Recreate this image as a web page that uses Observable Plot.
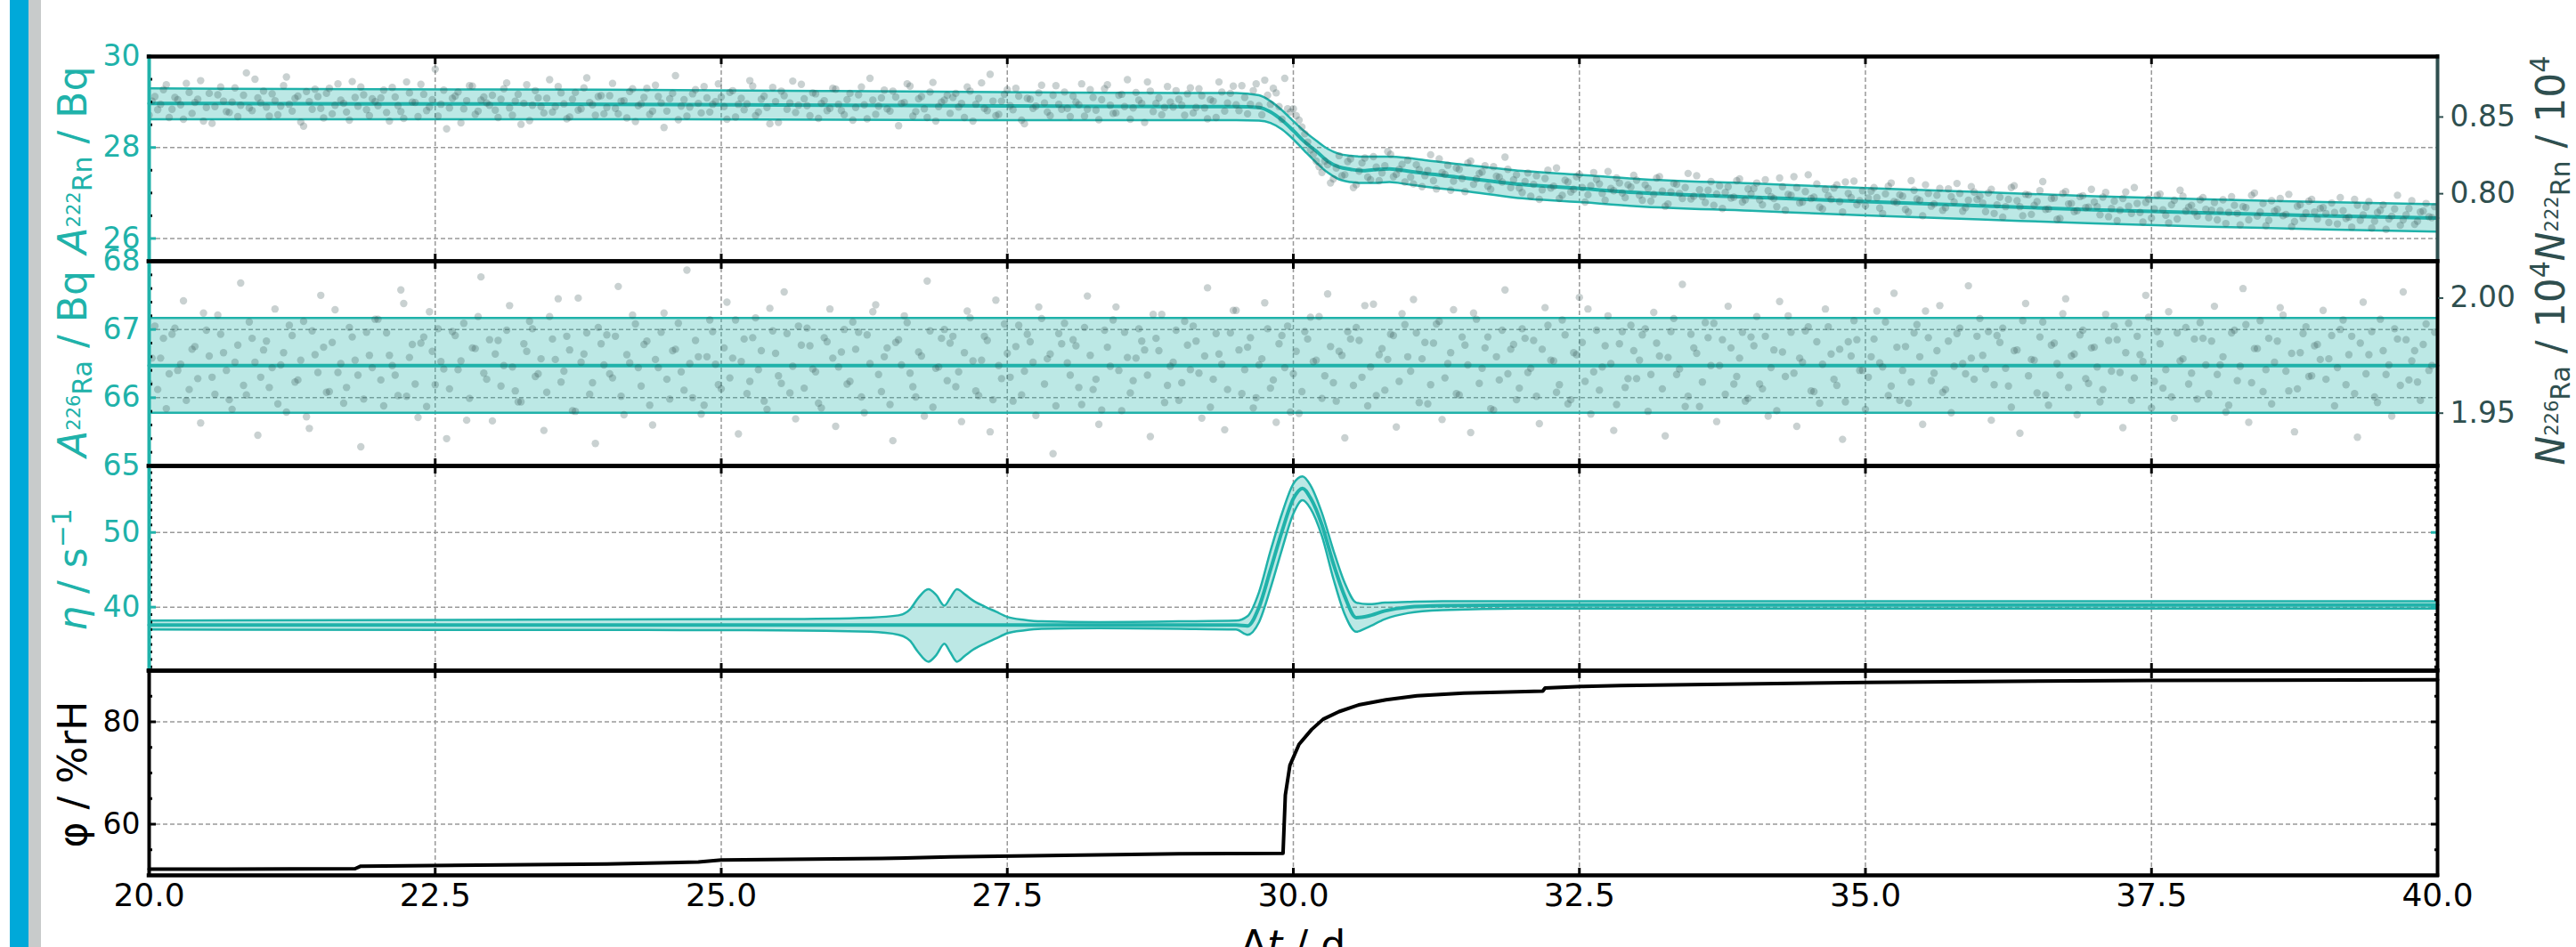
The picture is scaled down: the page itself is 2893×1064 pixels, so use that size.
<!DOCTYPE html>
<html><head><meta charset="utf-8">
<script src="https://cdn.jsdelivr.net/npm/d3@7"></script>
<script src="https://cdn.jsdelivr.net/npm/@observablehq/plot@0.6"></script>
<style>
html,body{margin:0;padding:0;background:#fff;}
body{width:2893px;height:1064px;overflow:hidden;position:relative;font-family:"DejaVu Sans",sans-serif;}
#barBlue{position:absolute;left:11px;top:0;width:21px;height:1064px;background:#00a9d9;}
#barGray{position:absolute;left:32px;top:0;width:14px;height:1064px;background:#c8cbcb;}
#fig{position:absolute;left:0;top:0;width:2893px;height:1064px;}
#fig svg{position:absolute;left:0;}
</style></head>
<body>
<div id="barBlue"></div><div id="barGray"></div>
<div id="fig"></div>
<script>
// ---------------- data ----------------
const xDomain = [20, 40];
const xTicks = [20, 22.5, 25, 27.5, 30, 32.5, 35, 37.5, 40];

// Panel 1: A(222Rn) fit (mean and band)
const rnT    = [20, 22, 24, 26, 28, 29, 29.5, 29.7, 29.8, 29.9, 30.0, 30.1, 30.2, 30.3, 30.4, 30.5, 30.6, 30.7, 30.84, 31.0, 31.15, 31.5, 31.93, 32.5, 33, 34, 35, 36, 37, 38, 39, 40];
const rnMean = [28.97, 28.96, 28.95, 28.93, 28.91, 28.90, 28.90, 28.88, 28.78, 28.60, 28.37, 28.12, 27.92, 27.70, 27.57, 27.52, 27.49, 27.51, 27.53, 27.48, 27.43, 27.33, 27.20, 27.10, 27.01, 26.91, 26.81, 26.72, 26.63, 26.56, 26.50, 26.45];
const rnHigh = [29.30, 29.28, 29.27, 29.24, 29.21, 29.20, 29.20, 29.15, 29.02, 28.82, 28.58, 28.35, 28.15, 27.97, 27.86, 27.82, 27.80, 27.80, 27.80, 27.77, 27.72, 27.62, 27.50, 27.40, 27.31, 27.21, 27.11, 27.02, 26.93, 26.86, 26.80, 26.75];
const rnLow  = [28.62, 28.62, 28.62, 28.61, 28.60, 28.60, 28.60, 28.59, 28.54, 28.40, 28.18, 27.92, 27.67, 27.45, 27.30, 27.24, 27.22, 27.22, 27.24, 27.19, 27.14, 27.04, 26.90, 26.80, 26.71, 26.61, 26.51, 26.42, 26.33, 26.26, 26.20, 26.15];
// Panel 1: measured A(222Rn); set A at t = 20 + 0.05 i, set B at t = 20.025 + 0.05 i
const scatterStart = 20, scatterStep = 0.05;
const rnScatter = [
28.71,29.12,28.95,29.38,28.84,29.05,28.62,29.21,28.99,29.47,28.88,28.53,29.16,29.02,28.77,29.31,28.93,29.64,28.81,29.09,
29.24,28.69,29.03,28.91,29.55,28.80,29.13,28.47,29.01,29.28,28.86,29.19,28.74,29.40,28.97,28.60,29.10,29.33,28.83,29.07,
28.92,29.26,28.58,29.11,28.79,29.44,29.00,28.68,29.17,28.89,29.72,28.95,28.41,29.08,29.22,28.85,29.36,28.73,29.04,28.98,
29.15,28.66,29.29,28.87,29.02,28.51,29.38,28.93,29.09,28.76,29.49,28.90,29.20,28.63,29.06,28.82,29.31,28.99,28.71,29.14,
28.88,29.41,28.74,29.03,29.23,28.57,28.96,29.30,28.80,29.12,28.44,29.07,29.58,28.91,28.69,29.18,28.97,29.34,28.78,29.01,
29.11,28.62,29.25,28.95,28.83,29.47,28.70,29.06,28.88,29.32,28.55,29.14,28.98,28.77,29.39,28.92,29.20,28.64,29.03,28.86,
29.28,28.81,29.05,28.60,29.16,28.94,29.52,28.73,29.09,28.85,29.24,28.48,28.99,29.35,28.79,29.12,28.66,29.43,28.90,29.04,
28.75,29.19,28.97,29.33,28.58,29.08,28.86,29.61,28.70,29.02,29.27,28.83,29.13,28.52,29.06,28.91,29.37,28.78,29.15,28.95,
29.22,28.68,29.00,29.40,28.84,29.10,28.61,29.29,28.93,28.76,29.17,29.49,28.87,29.04,28.55,29.24,28.97,28.72,29.34,28.89,
29.06,28.71,29.31,28.88,29.14,28.63,29.02,29.44,28.80,29.19,28.94,29.36,28.74,29.25,28.92,29.48,28.95,29.20,28.62,28.85,
28.85,28.60,28.30,27.95,27.70,27.45,27.62,27.31,27.82,27.40,27.75,27.18,27.66,27.35,27.80,27.27,27.60,27.85,27.41,27.63,
27.72,27.20,27.51,27.38,27.84,27.09,27.45,27.61,27.26,27.52,27.03,27.70,27.31,27.46,27.15,27.58,27.35,27.79,27.12,27.40,
27.01,27.44,27.19,26.86,27.32,27.11,27.55,26.95,27.24,27.08,27.41,26.80,27.16,27.30,26.99,27.47,27.05,27.22,26.90,27.13,
27.28,26.84,27.10,26.97,27.36,26.71,27.02,27.19,26.88,27.43,26.93,27.07,26.79,27.25,26.98,26.66,27.14,26.91,27.31,26.85,
26.98,27.22,26.74,27.05,26.88,27.33,26.62,26.95,27.12,26.80,27.40,26.91,26.69,27.08,26.86,27.18,26.58,26.99,27.26,26.83,
26.72,27.04,26.90,26.55,27.15,26.81,26.96,26.64,27.27,26.87,26.50,26.99,26.76,27.10,26.68,26.92,27.21,26.60,26.84,27.02,
26.93,26.59,27.08,26.74,26.47,26.86,27.16,26.70,26.97,26.53,26.81,27.25,26.65,26.89,26.44,27.03,26.77,26.61,26.94,26.69,
26.80,26.52,27.01,26.66,26.39,26.88,26.71,27.12,26.57,26.79,26.45,26.95,26.63,26.34,26.84,27.06,26.60,26.73,26.49,26.90,
26.46,26.79,26.61,26.33,26.92,26.55,26.70,26.41,27.00,26.58,26.28,26.83,26.64,26.50,26.97,26.37,26.74,26.56,26.86,26.43,
26.68,26.35,26.57,26.90,26.44,26.25,26.73,26.52,26.81,26.38,26.62,26.20,26.49,26.95,26.41,26.66,26.31,26.58,26.77,26.46
];
const rnScatterB = [
29.02,28.83,29.27,28.66,29.10,28.94,29.41,28.75,29.06,28.58,29.19,28.90,29.33,28.79,29.00,28.68,29.15,28.87,29.50,28.98,
28.89,29.18,28.72,29.36,28.95,29.08,28.56,29.23,28.84,29.12,28.65,29.30,28.93,29.04,28.78,29.45,28.91,29.16,28.70,29.01,
29.09,28.77,29.32,28.92,28.64,29.20,28.99,29.39,28.81,29.05,28.69,29.26,28.87,29.13,28.54,29.03,29.35,28.80,29.11,28.93,
28.82,29.06,29.42,28.71,29.17,28.97,28.59,29.25,28.90,29.08,28.78,29.34,28.96,28.67,29.21,28.85,29.53,28.94,29.12,28.74,
29.14,28.86,29.02,28.65,29.29,28.92,29.10,28.73,29.37,28.98,28.80,29.19,28.61,29.05,28.89,29.27,28.76,29.09,28.95,29.40,
28.90,29.21,28.67,29.08,28.96,29.35,28.78,29.13,28.52,29.01,29.24,28.84,29.46,28.93,29.07,28.70,29.18,28.97,28.81,29.30,
28.95,28.72,29.19,28.88,29.33,28.63,29.04,28.91,29.26,28.80,29.11,28.97,29.40,28.69,29.07,28.85,29.22,28.58,29.00,29.15,
29.10,28.89,28.66,29.24,28.95,29.42,28.81,29.02,28.73,29.17,28.92,29.30,28.60,29.08,28.86,29.20,28.98,28.70,29.36,28.84,
28.86,29.13,28.94,28.69,29.27,28.82,29.05,29.38,28.75,29.15,28.90,28.62,29.21,28.97,29.44,28.79,29.09,28.88,29.00,29.25,
28.93,29.18,28.76,29.29,28.87,29.05,28.66,29.22,28.98,29.35,28.81,29.10,28.95,29.40,28.72,29.15,29.30,28.90,29.52,28.78,
28.70,28.45,28.12,27.85,27.58,27.70,27.22,27.55,27.38,27.69,27.12,27.48,27.77,27.29,27.57,27.44,27.91,27.36,27.52,27.24,
27.35,27.62,27.14,27.49,27.27,27.75,27.41,27.06,27.55,27.32,27.66,27.19,27.43,27.60,27.08,27.37,27.24,27.52,27.29,27.11,
27.25,26.93,27.38,27.07,27.50,27.15,26.88,27.28,27.02,27.36,27.12,26.96,27.45,27.20,26.84,27.10,27.33,27.00,27.18,27.39,
26.95,27.18,26.82,27.33,27.04,26.76,27.21,26.99,27.12,26.87,27.38,26.92,27.06,26.73,27.16,27.01,26.89,27.27,26.80,27.09,
27.10,26.85,27.29,26.92,26.70,27.14,26.97,27.36,26.78,27.03,26.88,27.20,26.65,26.94,27.11,26.81,27.24,26.90,26.74,27.05,
26.89,27.12,26.67,26.98,27.22,26.79,26.93,26.58,27.06,26.84,27.18,26.71,26.95,26.62,27.09,26.80,26.99,26.68,27.14,26.86,
26.78,27.00,26.55,26.91,26.70,27.12,26.83,26.50,26.96,26.73,27.05,26.64,26.88,26.42,26.99,26.76,26.59,26.92,26.68,27.08,
26.70,26.91,26.48,26.82,26.62,27.02,26.55,26.77,26.36,26.87,26.65,26.98,26.51,26.74,26.43,26.93,26.69,26.58,26.85,26.64,
26.62,26.41,26.85,26.57,26.73,26.30,26.68,26.95,26.49,26.77,26.40,26.60,26.88,26.53,26.26,26.71,26.45,26.82,26.58,26.66,
26.55,26.78,26.32,26.61,26.47,26.86,26.40,26.69,26.23,26.57,26.74,26.43,26.65,26.29,26.52,26.83,26.38,26.60,26.48,26.70
];

// Panel 2: A(226Ra) fit and measured values (same two sampling sets)
const raT = [20, 40];
const raMean = [66.47, 66.47];
const raHigh = [67.17, 67.17];
const raLow  = [65.78, 65.78];
const raScatter = [
66.21,67.05,66.58,65.84,66.93,66.40,67.42,66.12,66.75,65.63,66.99,66.30,67.21,66.66,65.97,66.52,67.68,66.04,66.87,65.45,
66.70,66.15,67.30,66.48,65.79,66.91,66.26,67.12,65.55,66.63,67.50,66.08,66.81,66.37,65.92,67.03,66.55,65.28,66.96,66.44,
67.15,65.88,66.62,66.33,67.58,66.02,66.78,65.71,66.89,67.26,66.19,66.53,65.40,66.97,66.41,67.09,65.99,66.72,67.77,66.27,
65.66,66.84,66.47,67.35,66.10,65.94,66.68,67.01,66.35,65.52,67.19,66.56,66.23,66.90,65.81,67.46,66.64,66.05,65.33,66.79,
66.92,66.29,67.63,65.75,66.51,67.08,66.17,66.83,65.60,66.44,67.24,65.98,66.71,66.38,67.87,66.00,66.60,65.89,67.14,66.49,
66.13,67.40,66.58,65.47,66.86,66.24,67.17,66.69,65.83,66.98,66.32,67.55,66.07,65.69,66.77,67.02,66.42,65.92,66.88,67.30,
65.58,66.67,66.20,67.11,66.96,65.78,66.50,67.36,66.09,66.73,65.37,66.85,67.20,66.36,66.01,66.61,67.71,65.86,66.45,67.00,
66.80,66.16,65.65,67.27,66.54,66.03,66.90,65.50,67.43,66.28,66.65,65.95,67.06,66.39,66.82,65.74,67.16,66.57,65.18,66.94,
67.09,66.33,66.76,65.90,67.49,66.12,65.61,66.99,66.46,67.33,65.81,66.59,66.25,67.01,66.70,65.43,66.87,67.22,66.18,66.52,
65.96,67.12,66.41,66.83,65.70,67.61,66.27,66.64,65.53,66.95,67.28,66.06,66.74,65.85,66.48,67.39,66.14,65.64,66.91,67.05,
66.35,65.77,66.97,67.18,66.55,65.99,67.52,66.22,66.68,65.41,66.86,67.03,66.30,65.88,67.37,66.63,66.11,66.93,65.57,67.23,
66.60,67.44,65.93,66.81,66.19,67.08,65.68,66.50,67.29,66.04,66.77,65.49,67.15,66.43,66.89,65.82,66.26,67.58,66.71,65.97,
67.01,66.37,66.84,65.62,67.32,66.55,66.08,67.14,65.91,66.66,67.47,66.24,65.76,66.99,66.45,67.20,65.52,66.79,66.15,67.06,
66.28,66.92,65.80,67.25,66.61,65.44,66.97,66.34,67.66,66.02,66.73,65.87,67.10,66.47,65.65,66.85,67.34,66.20,66.58,65.95,
66.89,67.19,66.13,65.73,66.70,67.41,66.31,66.96,65.58,66.52,67.04,66.09,65.92,67.30,66.64,66.18,65.39,66.82,67.13,66.40,
65.83,66.60,67.27,66.45,66.03,67.53,65.96,66.75,66.23,67.07,65.61,66.88,66.36,67.35,66.12,65.78,66.94,66.50,67.64,66.27,
67.16,66.42,65.67,66.91,67.02,66.17,66.69,65.48,67.38,66.56,66.07,67.11,65.89,66.80,66.33,67.45,66.61,65.75,66.99,66.21,
66.74,65.94,67.22,66.39,66.85,65.56,67.09,66.29,66.63,67.50,65.85,66.97,66.14,67.26,65.70,66.54,67.03,66.36,65.98,66.87,
66.06,67.34,66.48,65.79,66.95,66.25,67.60,65.64,66.72,67.13,66.41,65.91,66.83,67.21,66.10,65.50,66.66,67.04,66.32,66.78,
67.28,66.57,65.88,67.00,66.19,66.90,65.42,67.40,66.63,66.01,67.15,66.34,65.73,66.86,67.55,66.26,66.69,65.96,67.08,66.47
];
const raScatterB = [
66.58,66.12,66.87,66.35,67.02,66.49,65.96,66.71,66.28,67.24,66.61,66.05,66.93,66.40,65.83,66.77,66.18,67.11,66.52,66.30,
66.83,66.44,65.91,66.66,67.06,66.23,66.55,65.72,66.98,66.37,66.74,66.09,67.29,66.50,66.15,66.89,66.33,65.98,66.62,67.15,
66.26,66.95,66.47,66.03,67.38,66.59,66.20,66.80,65.87,66.68,67.01,66.42,66.13,66.91,66.54,65.67,66.73,67.19,66.36,66.85,
66.64,66.17,66.99,66.45,65.94,66.79,67.12,66.31,66.57,66.08,66.86,67.45,66.39,66.70,65.80,66.52,66.95,66.22,67.03,66.48,
66.35,66.90,66.02,66.63,67.21,66.44,66.78,65.89,66.56,66.96,66.27,66.69,67.09,66.11,66.50,66.84,65.76,66.60,66.97,66.19,
66.73,66.29,67.14,66.53,66.06,66.88,66.41,65.95,67.31,66.65,66.21,66.94,66.46,67.05,66.14,66.76,66.38,65.85,66.82,66.58,
66.45,67.00,66.24,66.71,66.01,66.92,67.26,66.34,66.60,65.90,66.81,66.48,67.10,66.16,66.67,65.73,66.98,66.43,66.87,66.25,
66.90,66.38,66.66,67.17,66.10,66.55,66.84,65.97,66.47,67.08,66.30,66.75,66.04,66.93,66.52,67.33,66.20,66.64,65.88,66.79,
66.51,66.85,66.15,67.03,66.62,66.27,65.82,66.74,67.14,66.40,66.96,66.07,66.58,66.83,66.33,67.22,66.69,65.93,66.46,66.99,
66.22,66.77,67.05,66.36,66.61,65.86,66.94,66.49,66.12,67.28,66.70,66.41,66.88,66.00,66.57,67.01,66.26,66.79,66.44,65.79,
66.68,66.09,66.86,66.53,67.19,66.32,66.75,65.95,66.62,66.97,66.18,66.84,67.35,66.45,66.03,66.72,66.56,66.91,66.24,67.07,
66.39,66.95,66.57,65.91,66.80,67.12,66.29,66.66,66.06,66.89,66.48,67.24,66.21,66.73,65.84,66.60,66.99,66.35,66.78,66.14,
66.87,66.43,66.02,66.71,67.06,66.54,66.19,66.92,65.97,66.63,66.81,67.30,66.38,66.11,66.76,66.50,65.90,66.97,66.28,66.69,
66.55,67.01,66.34,66.80,66.13,66.59,67.16,66.42,65.87,66.93,66.65,66.23,66.88,67.09,66.47,66.05,66.73,66.31,66.96,65.99,
66.76,66.20,66.90,66.44,65.81,66.67,67.20,66.36,66.58,66.98,66.10,66.82,66.49,67.04,66.27,66.71,65.94,66.61,66.85,66.40,
66.30,66.86,66.51,67.11,66.17,66.74,66.40,65.92,66.95,66.60,67.27,66.25,66.69,66.08,66.83,66.46,67.02,66.35,66.58,66.90,
66.62,66.97,66.19,66.81,66.43,65.86,66.70,67.13,66.32,66.55,66.89,66.04,66.77,66.50,67.23,66.15,66.64,66.92,66.28,66.73,
66.45,66.12,66.84,67.05,66.37,66.66,65.96,66.90,66.53,67.18,66.24,66.79,66.41,66.01,66.95,66.57,66.20,66.86,67.10,66.48,
66.83,66.34,66.60,65.89,66.99,66.46,67.07,66.22,66.72,66.09,66.87,66.52,67.32,66.39,66.65,66.13,66.94,66.31,66.76,66.56,
66.27,66.91,66.44,67.14,66.63,66.06,66.80,66.35,66.97,65.93,66.69,66.48,67.01,66.18,66.85,66.54,66.23,66.78,66.40,66.96
];

// Panel 3: eta fit (mean and band)
const etaT    = [20, 25.5, 26.3, 26.55, 26.65, 26.72, 26.81, 26.88, 26.95, 27.0, 27.06, 27.13, 27.2, 27.3, 27.4, 27.5, 27.65, 27.8, 28.3, 29.0, 29.5, 29.6, 29.7, 29.8, 29.9, 30.0, 30.08, 30.15, 30.25, 30.35, 30.45, 30.55, 30.65, 30.8, 31.0, 31.3, 32, 35, 40];
const etaMean = [37.6, 37.6, 37.6, 37.6, 37.6, 37.6, 37.6, 37.6, 37.6, 37.6, 37.6, 37.6, 37.6, 37.6, 37.6, 37.6, 37.6, 37.6, 37.6, 37.6, 37.6, 37.5, 40.0, 45.0, 50.1, 54.5, 55.9, 54.6, 51.0, 45.8, 41.4, 38.6, 38.8, 39.5, 40.0, 40.2, 40.3, 40.3, 40.3];
const etaLow  = [37.0, 36.9, 36.7, 36.3, 35.5, 34.0, 32.7, 33.6, 35.1, 34.0, 32.7, 33.5, 34.3, 35.1, 35.8, 36.5, 36.9, 37.1, 37.2, 37.1, 37.0, 36.3, 38.0, 42.5, 47.7, 52.5, 54.3, 53.2, 49.5, 43.8, 39.0, 36.7, 37.3, 38.4, 39.2, 39.6, 39.8, 39.8, 39.8];
const etaHigh = [38.2, 38.4, 38.6, 38.9, 39.7, 41.2, 42.4, 41.6, 40.2, 41.2, 42.4, 41.7, 40.9, 40.1, 39.4, 38.7, 38.3, 38.1, 38.0, 38.1, 38.2, 38.8, 42.0, 47.5, 52.5, 56.5, 57.5, 56.3, 52.6, 47.6, 43.2, 40.6, 40.4, 40.6, 40.7, 40.8, 40.8, 40.8, 40.8];

// Panel 4: relative humidity
const phiT = [20, 21.8, 21.85, 24.0, 24.8, 25.0, 26.4, 27.0, 28.0, 29.0, 29.91, 29.93, 29.97, 30.05, 30.16, 30.26, 30.40, 30.57, 30.81, 31.08, 31.49, 32.18, 32.2, 32.52, 32.86, 35, 37.5, 40];
const phiV = [51.2, 51.3, 51.8, 52.2, 52.6, 53.0, 53.3, 53.6, 53.9, 54.2, 54.3, 65.7, 71.5, 75.6, 78.5, 80.5, 82.0, 83.3, 84.3, 85.1, 85.6, 86.0, 86.6, 86.9, 87.1, 87.7, 88.1, 88.2];

const rnActPerN = 33.73, raActPerN = 33.73;

// ---------------- styling/layout ----------------
const teal = "#20b2aa", slate = "#2f4f4f";
const W = 2893, ML = 167, MR = 156;
const fig = document.getElementById("fig");
const grid = {stroke: "#999", strokeOpacity: 1, strokeWidth: 1.5, strokeDasharray: "5,3"};
const dotStyle = {r: 4.2, fill: slate, fillOpacity: 0.26, clip: true};

function place(svg, top) { svg.style.top = top + "px"; fig.appendChild(svg); return svg; }

function frameMarks(yd, leftColor, rightColor) {
  return [
    Plot.ruleX([xDomain[0]], {stroke: leftColor, strokeWidth: 4, strokeLinecap: "square"}),
    Plot.ruleX([xDomain[1]], {stroke: rightColor, strokeWidth: 4, strokeLinecap: "square"}),
    Plot.ruleY([yd[0]], {stroke: "black", strokeWidth: 4.5, strokeLinecap: "square"}),
    Plot.ruleY([yd[1]], {stroke: "black", strokeWidth: 4.5, strokeLinecap: "square"})
  ];
}
function xTickMarks() {
  return [
    Plot.axisX(xTicks, {anchor: "bottom", tickSize: 8, dy: -8, fill: "none", stroke: "black", strokeWidth: 3, label: null}),
    Plot.axisX(xTicks, {anchor: "top", tickSize: 8, dy: 8, fill: "none", stroke: "black", strokeWidth: 3, label: null})
  ];
}
function yTickMarks(major, minor, majorColor, bothSides) {
  const m = [
    Plot.axisY(minor, {anchor: "left", tickSize: 4, dx: 4, fill: "none", stroke: "black", strokeWidth: 3, label: null}),
    Plot.axisY(major, {anchor: "left", tickSize: 8, dx: 8, fill: "none", stroke: majorColor, strokeWidth: 3, label: null}),
    Plot.axisY(major, {anchor: "left", tickSize: 0, tickPadding: 10, stroke: "none", fill: majorColor, fontSize: 33, label: null, tickFormat: d => String(d)})
  ];
  if (bothSides) m.push(
    Plot.axisY(minor, {anchor: "right", tickSize: 4, dx: -4, fill: "none", stroke: "black", strokeWidth: 3, label: null}),
    Plot.axisY(major, {anchor: "right", tickSize: 8, dx: -8, fill: "none", stroke: majorColor, strokeWidth: 3, label: null})
  );
  return m;
}
function basePlot(height, mt, mb, yd, marks) {
  return Plot.plot({
    width: W, height, marginLeft: ML, marginRight: MR, marginTop: mt, marginBottom: mb,
    x: {domain: xDomain, axis: null}, y: {domain: yd, axis: null},
    style: {background: "none", overflow: "visible", fontFamily: "DejaVu Sans"},
    marks
  });
}
const tIdx = (arr, off) => arr.map((v, i) => ({t: scatterStart + off + i * scatterStep, v}));

// ---------- Panel 1 ----------
const d1 = rnT.map((t, i) => ({t, m: rnMean[i], lo: rnLow[i], hi: rnHigh[i]}));
const y1 = [25.5, 30];
place(basePlot(303, 63, 10, y1, [
  Plot.gridX(xTicks.slice(1, -1), grid),
  Plot.gridY([26, 28], grid),
  Plot.areaY(d1, {x: "t", y1: "lo", y2: "hi", fill: teal, fillOpacity: 0.3, curve: "monotone-x"}),
  Plot.lineY(d1, {x: "t", y: "hi", stroke: teal, strokeWidth: 2.5, curve: "monotone-x"}),
  Plot.lineY(d1, {x: "t", y: "lo", stroke: teal, strokeWidth: 2.5, curve: "monotone-x"}),
  Plot.lineY(d1, {x: "t", y: "m", stroke: teal, strokeWidth: 4, curve: "monotone-x"}),
  Plot.dot([...tIdx(rnScatter, 0), ...tIdx(rnScatterB, scatterStep / 2)], {x: "t", y: "v", ...dotStyle}),
  ...yTickMarks([26, 28, 30], [25.5, 26.5, 27, 27.5, 28.5, 29, 29.5], teal, false),
  ...xTickMarks(),
  ...frameMarks(y1, teal, slate)
]), 0);
place(basePlot(303, 63, 10, [y1[0] / rnActPerN, y1[1] / rnActPerN], [
  Plot.axisY([0.80, 0.85], {anchor: "right", tickSize: 6, tickPadding: 8, stroke: slate, fill: slate, strokeWidth: 2, fontSize: 33, label: null, tickFormat: d3.format(".2f")})
]), 0);

// ---------- Panel 2 ----------
const d2 = raT.map((t, i) => ({t, m: raMean[i], lo: raLow[i], hi: raHigh[i]}));
const y2 = [65, 68];
place(basePlot(260, 20, 10, y2, [
  Plot.gridX(xTicks.slice(1, -1), grid),
  Plot.gridY([66, 67], grid),
  Plot.areaY(d2, {x: "t", y1: "lo", y2: "hi", fill: teal, fillOpacity: 0.3}),
  Plot.lineY(d2, {x: "t", y: "hi", stroke: teal, strokeWidth: 2.5}),
  Plot.lineY(d2, {x: "t", y: "lo", stroke: teal, strokeWidth: 2.5}),
  Plot.lineY(d2, {x: "t", y: "m", stroke: teal, strokeWidth: 4}),
  Plot.dot([...tIdx(raScatter, 0), ...tIdx(raScatterB, scatterStep / 2)], {x: "t", y: "v", ...dotStyle}),
  ...yTickMarks([65, 66, 67, 68], [65.2, 65.4, 65.6, 65.8, 66.2, 66.4, 66.6, 66.8, 67.2, 67.4, 67.6, 67.8], teal, false),
  ...xTickMarks(),
  ...frameMarks(y2, teal, "black")
]), 273);
place(basePlot(260, 20, 10, [y2[0] / raActPerN, y2[1] / raActPerN], [
  Plot.axisY([1.95, 2.00], {anchor: "right", tickSize: 6, tickPadding: 8, stroke: slate, fill: slate, strokeWidth: 2, fontSize: 33, label: null, tickFormat: d3.format(".2f")})
]), 273);

// ---------- Panel 3 ----------
const d3d = etaT.map((t, i) => ({t, m: etaMean[i], lo: etaLow[i], hi: etaHigh[i]}));
const y3 = [31.5, 58.9];
const etaMinor = [32,33,34,35,36,37,38,39,41,42,43,44,45,46,47,48,49,51,52,53,54,55,56,57,58];
place(basePlot(260, 20, 10, y3, [
  Plot.gridX(xTicks.slice(1, -1), grid),
  Plot.gridY([40, 50], grid),
  Plot.areaY(d3d, {x: "t", y1: "lo", y2: "hi", fill: teal, fillOpacity: 0.3, curve: "monotone-x"}),
  Plot.lineY(d3d, {x: "t", y: "hi", stroke: teal, strokeWidth: 2.5, curve: "monotone-x"}),
  Plot.lineY(d3d, {x: "t", y: "lo", stroke: teal, strokeWidth: 2.5, curve: "monotone-x"}),
  Plot.lineY(d3d, {x: "t", y: "m", stroke: teal, strokeWidth: 4, curve: "monotone-x"}),
  ...yTickMarks([40, 50], etaMinor, teal, true),
  ...xTickMarks(),
  ...frameMarks(y3, teal, "black")
]), 503);

// ---------- Panel 4 ----------
const d4 = phiT.map((t, i) => ({t, v: phiV[i]}));
const y4 = [50, 90];
place(basePlot(331, 20, 81, y4, [
  Plot.gridX(xTicks.slice(1, -1), grid),
  Plot.gridY([60, 80], grid),
  Plot.lineY(d4, {x: "t", y: "v", stroke: "black", strokeWidth: 4}),
  ...yTickMarks([60, 80], [55, 65, 70, 75, 85], "black", true),
  ...xTickMarks(),
  Plot.axisX(xTicks, {anchor: "bottom", tickSize: 0, tickPadding: 9, stroke: "none", fill: "black", fontSize: 36, label: null, tickFormat: d3.format(".1f")}),
  ...frameMarks(y4, "black", "black")
]), 733);

// ---------- axis titles ----------
const lab = d3.select(fig).append("svg").attr("width", W).attr("height", 1064)
  .style("top", "0px").style("overflow", "visible")
  .attr("font-family", "DejaVu Sans");
function label(x, y, color, parts, rotate = true) {
  const t = lab.append("text")
    .attr("transform", `translate(${x},${y})` + (rotate ? " rotate(-90)" : ""))
    .attr("text-anchor", "middle").attr("fill", color).attr("font-size", 44);
  for (const p of parts) {
    const s = t.append("tspan").text(p.t);
    if (p.size) s.attr("font-size", p.size);
    if (p.it) s.attr("font-style", "italic");
    if (p.dy) s.attr("dy", p.dy);
  }
}
label(97, 180, teal, [{t: "A", it: 1}, {t: "222", size: 21, dy: -7}, {t: "Rn", size: 30, dy: 13}, {t: " / Bq", dy: -6}]);
label(97, 409, teal, [{t: "A", it: 1}, {t: "226", size: 21, dy: -7}, {t: "Ra", size: 30, dy: 13}, {t: " / Bq", dy: -6}]);
label(97, 640, teal, [{t: "η", it: 1}, {t: " / s"}, {t: "−1", size: 30, dy: -17}]);
label(97, 870, "black", [{t: "φ / %rH"}]);
label(2880, 178, slate, [{t: "N", it: 1}, {t: "222", size: 21, dy: -7}, {t: "Rn", size: 30, dy: 13}, {t: " / 10", dy: -6}, {t: "4", size: 30, dy: -17}]);
label(2880, 408, slate, [{t: "N", it: 1}, {t: "226", size: 21, dy: -7}, {t: "Ra", size: 30, dy: 13}, {t: " / 10", dy: -6}, {t: "4", size: 30, dy: -17}]);
label(1452, 1077, "black", [{t: "Δ"}, {t: "t", it: 1}, {t: " / d"}], false);
</script>
</body></html>
